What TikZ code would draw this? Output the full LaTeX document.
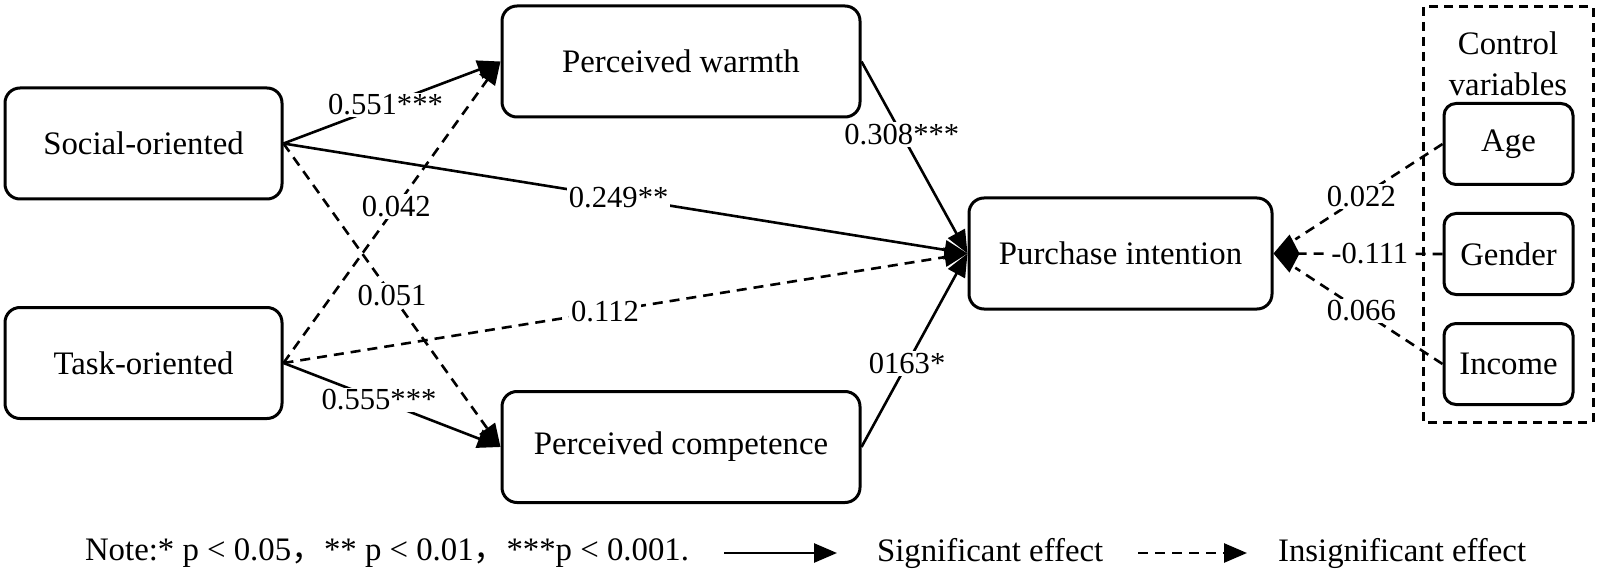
\documentclass[tikz,border=0pt]{standalone}
\usepackage{fontspec}
\setmainfont{Liberation Serif}
\newfontfamily\cjk{Noto Sans CJK SC}
\usetikzlibrary{arrows.meta, positioning}

\begin{document}
\begin{tikzpicture}[x=0.5pt, y=-0.5pt,
		varbox/.style={draw, line width=1.5pt, rounded corners=7.5pt, minimum height=55.5pt, inner sep=0pt, font=\fontsize{16.4}{19.5}\selectfont},
		ctrlbox/.style={varbox, rounded corners=6pt, minimum width=64.5pt, minimum height=40.5pt},
		sig/.style={line width=1.3pt, -{Triangle[length=11.5pt, width=9.5pt]}},
		ins/.style={sig, dash pattern=on 5pt off 3.5pt},
		ctl/.style={line width=1.3pt, dash pattern=on 5pt off 3.5pt},
		lab/.style={fill=white, inner sep=1pt, font=\fontsize{15.3}{18}\selectfont},
		frame/.style={line width=1.5pt, dash pattern=on 4.5pt off 3pt}
	]
					\useasboundingbox (0,0) rectangle (1600,577);

					\node[varbox, minimum width=138.5pt] (soc) at (143.5, 143.5) {Social-oriented};
					\node[varbox, minimum width=138.5pt] (task) at (143.5, 363) {Task-oriented};
					\node[varbox, minimum width=179pt] (warm) at (681, 61.5) {Perceived warmth};
					\node[varbox, minimum width=179pt] (comp) at (681, 447) {Perceived competence};
					\node[varbox, minimum width=151.5pt] (pur) at (1120.5, 253.5) {Purchase intention};

					\draw[frame] (1423,7) rectangle (1593,422);
					\node[align=center, font=\fontsize{16.4}{20.5}\selectfont] (ctrl) at (1508, 64) {Control\\variables};
					\node[ctrlbox] (age) at (1508.5, 144) {Age};
					\node[ctrlbox] (gen) at (1508.5, 254) {Gender};
					\node[ctrlbox] (inc) at (1508.5, 364) {Income};

					\draw[sig] (soc.east) -- node[lab, pos=0.47] {0.551***} (warm.west);
					\draw[ins] (task.east) -- node[lab, pos=0.52] {0.042} (warm.west);
					\draw[ins] (soc.east) -- node[lab, pos=0.5] {0.051} (comp.west);
					\draw[sig] (task.east) -- node[lab, pos=0.44] {0.555***} (comp.west);
					\draw[sig] (soc.east) -- node[lab, pos=0.49] {0.249**} (pur.west);
					\draw[ins] (task.east) -- node[lab, pos=0.47] {0.112} (pur.west);
					\draw[sig] (warm.east) -- node[lab, pos=0.38] {0.308***} (pur.west);
					\draw[sig] (comp.east) -- node[lab, pos=0.43] {0163*} (pur.west);

					\draw[ctl, shorten >=13pt] (age.west) -- node[lab, pos=0.48] {0.022} (pur.east);
					\draw[ctl, -{Kite[length=13pt, width=19pt, inset=5pt]}] (gen.west) -- node[lab, pos=0.43] {-0.111} (pur.east);
					\draw[ctl, shorten >=13pt] (inc.west) -- node[lab, pos=0.48] {0.066} (pur.east);

					\node[anchor=west, font=\fontsize{16.4}{19.5}\selectfont] (note) at (78, 553) {Note:* p < 0.05{\cjk ，}** p < 0.01{\cjk ，}***p < 0.001.};
					\coordinate (s1) at (724, 553);
					\coordinate (s2) at (837, 553);
					\draw[sig] (s1) -- (s2);
					\node[anchor=west, font=\fontsize{16.4}{19.5}\selectfont] (sigtxt) at (870, 553) {Significant effect};
					\coordinate (i1) at (1138, 553);
					\coordinate (i2) at (1247, 553);
					\draw[ins] (i1) -- (i2);
					\node[anchor=west, font=\fontsize{16.4}{19.5}\selectfont] (instxt) at (1271, 553) {Insignificant effect};
				\end{tikzpicture}
\end{document}
